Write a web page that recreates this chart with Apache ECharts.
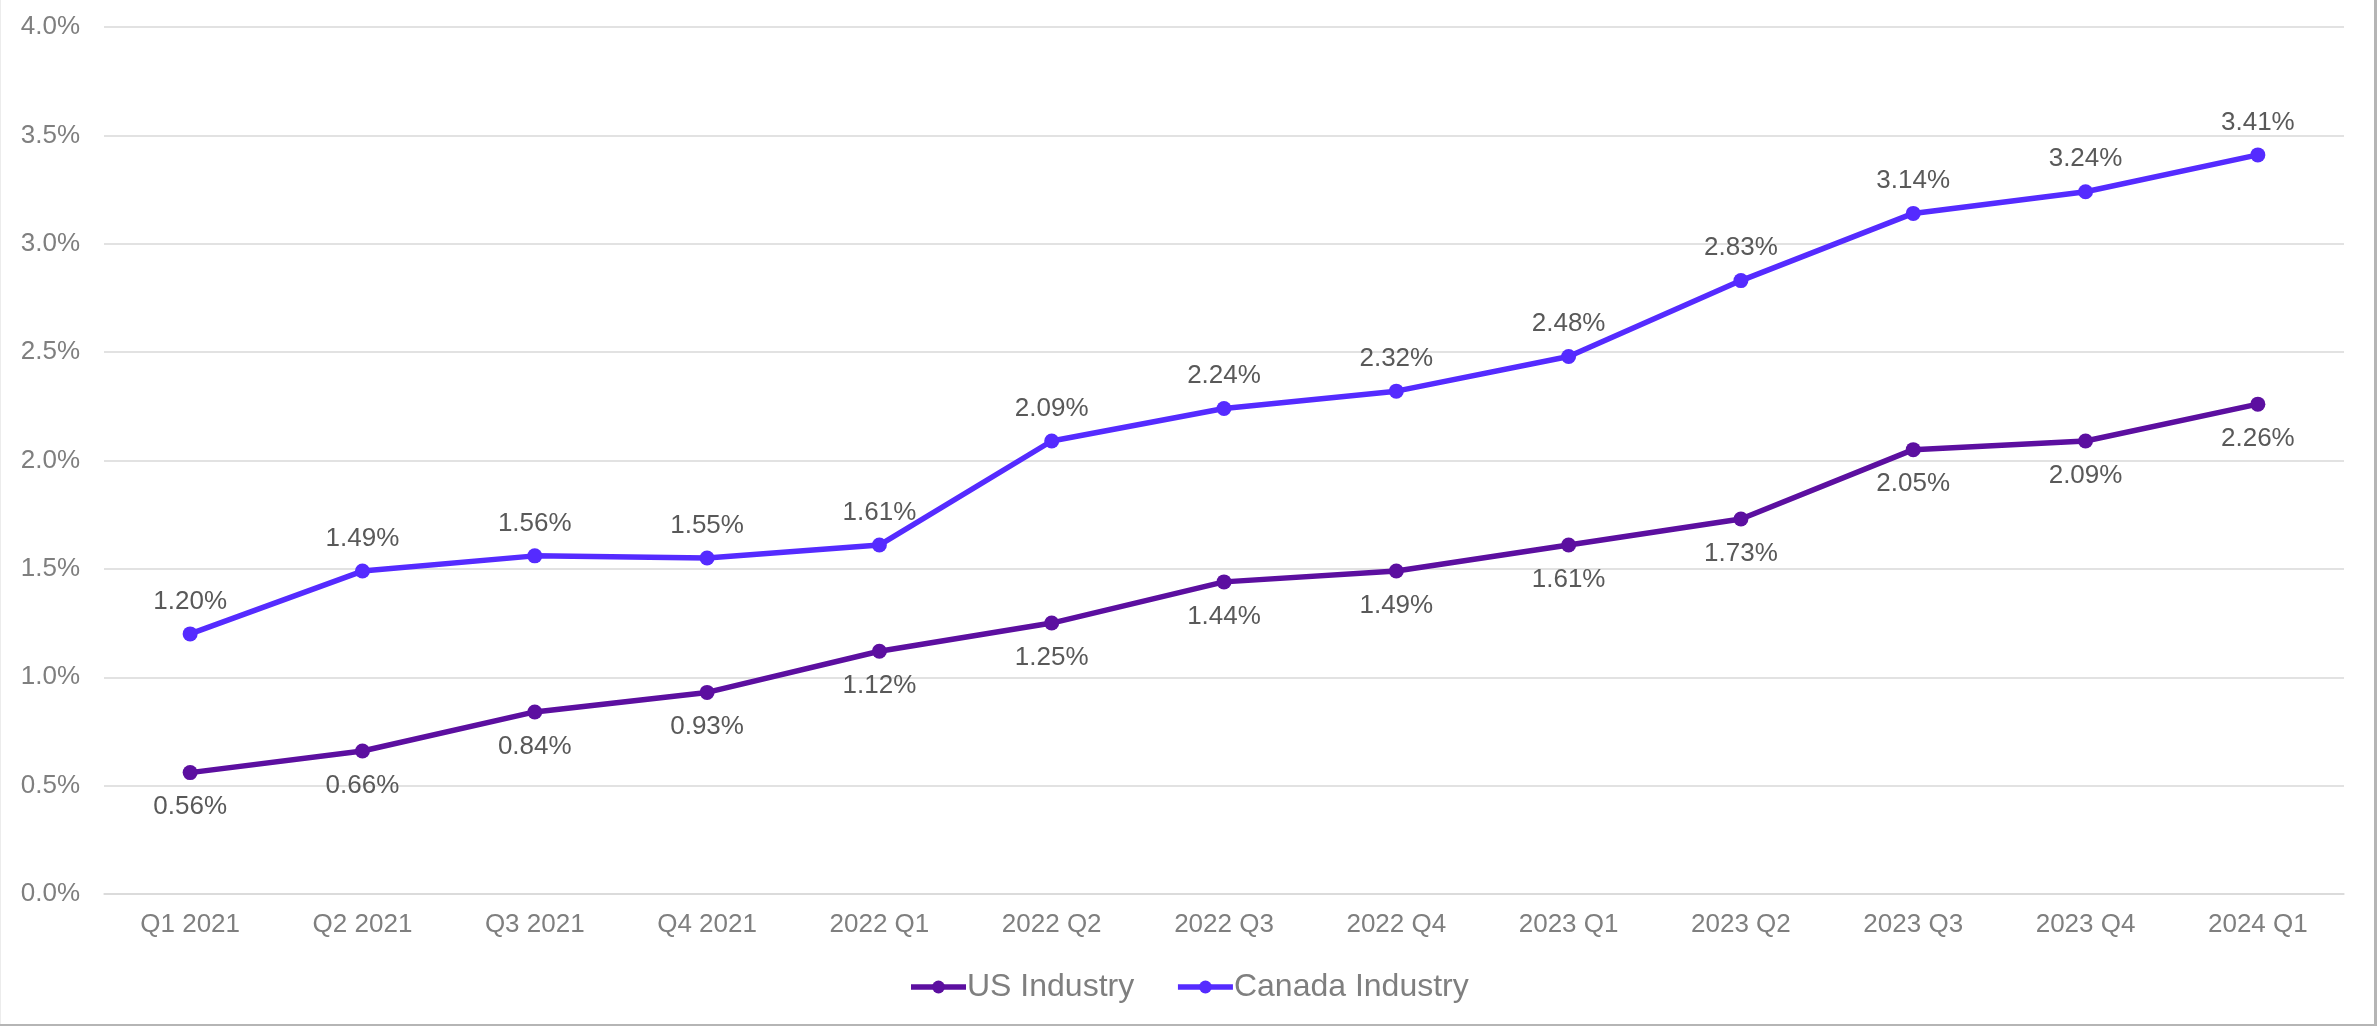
<!DOCTYPE html>
<html>
<head>
<meta charset="utf-8">
<script src="https://cdn.jsdelivr.net/npm/echarts@6/dist/echarts.min.js"></script>
<style>
html,body{margin:0;padding:0;background:#fff;}
#wrap{position:relative;width:2377px;height:1026px;overflow:hidden;}
#chart{position:absolute;left:0;top:0;width:2377px;height:1026px;}
.bR{position:absolute;right:0;top:0;width:3px;height:1026px;background:#b5b5b5;}
.bB{position:absolute;left:0;bottom:0;width:2377px;height:2px;background:#b5b5b5;}
.bL{position:absolute;left:0;top:0;width:1px;height:1026px;background:#ececec;}
</style>
</head>
<body>
<div id="wrap"><div id="chart"></div><div class="bL"></div><div class="bR"></div><div class="bB"></div></div>
<script>
const categories = ['Q1 2021','Q2 2021','Q3 2021','Q4 2021','2022 Q1','2022 Q2','2022 Q3','2022 Q4','2023 Q1','2023 Q2','2023 Q3','2023 Q4','2024 Q1'];
const usIndustry = [0.56,0.66,0.84,0.93,1.12,1.25,1.44,1.49,1.61,1.73,2.05,2.09,2.26];
const canadaIndustry = [1.20,1.49,1.56,1.55,1.61,2.09,2.24,2.32,2.48,2.83,3.14,3.24,3.41];
const seriesNames = ['US Industry','Canada Industry'];
const seriesColors = ['#5c0fa0','#552bff'];

const FONT = 'Arial, "Liberation Sans", sans-serif';
const chart = echarts.init(document.getElementById('chart'), null, {renderer:'canvas'});
const labelStyle = {show:true, fontSize:26, fontFamily:FONT, color:'#595959',
  formatter: p => p.value.toFixed(2) + '%'};
chart.setOption({
  animation:false,
  backgroundColor:'#ffffff',
  grid:{left:104, right:33, top:27, bottom:132, containLabel:false, outerBoundsMode:'none'},
  legend:{
    data:seriesNames.map((n,i)=>({name:n,
      itemStyle:{color:seriesColors[i]}, lineStyle:{color:seriesColors[i], width:5.5}})),
    top:966, left:'center', itemWidth:55, itemHeight:16, itemGap:41,
    textStyle:{fontSize:32, fontFamily:FONT, color:'#7f7f7f', padding:[0,0,0,-4]}
  },
  xAxis:{
    type:'category', data:categories, boundaryGap:true,
    axisLine:{show:true, lineStyle:{color:'#d9d9d9', width:1.5}},
    axisTick:{show:false},
    axisLabel:{fontSize:26, fontFamily:FONT, color:'#7f7f7f', margin:18, interval:0}
  },
  yAxis:{
    type:'value', min:0, max:4, interval:0.5,
    axisLine:{show:false}, axisTick:{show:false},
    axisLabel:{fontSize:26, fontFamily:FONT, color:'#7f7f7f', margin:24,
      formatter: v => v.toFixed(1) + '%'},
    splitLine:{lineStyle:{color:'#d9d9d9', width:1.5}}
  },
  series:[
    {name:seriesNames[0], type:'line', data:usIndustry, color:seriesColors[0],
     symbol:'circle', symbolSize:15, lineStyle:{width:5.5, color:seriesColors[0]},
     itemStyle:{color:seriesColors[0]},
     label:Object.assign({}, labelStyle, {position:'bottom', distance:14})},
    {name:seriesNames[1], type:'line', data:canadaIndustry, color:seriesColors[1],
     symbol:'circle', symbolSize:15, lineStyle:{width:5.5, color:seriesColors[1]},
     itemStyle:{color:seriesColors[1]},
     label:Object.assign({}, labelStyle, {position:'top', distance:12})}
  ]
});
</script>
</body>
</html>
